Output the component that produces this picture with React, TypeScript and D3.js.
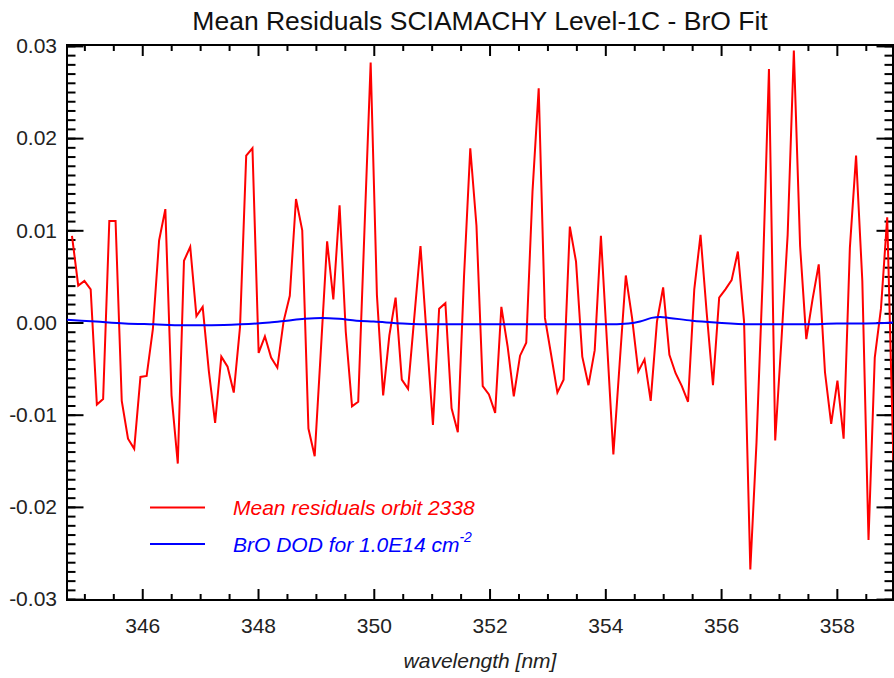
import React, { useEffect, useRef } from 'react';
import * as d3 from 'd3';

// wavelength grid of the mean residual spectrum [nm]
const wavelength = [
  344.786, 344.894, 345.001, 345.109, 345.216, 345.324, 345.431, 345.539, 345.646, 345.754,
  345.861, 345.969, 346.076, 346.184, 346.291, 346.399, 346.506, 346.614, 346.721, 346.829,
  346.936, 347.044, 347.151, 347.259, 347.366, 347.474, 347.581, 347.689, 347.796, 347.904,
  348.011, 348.119, 348.226, 348.334, 348.441, 348.549, 348.656, 348.764, 348.871, 348.979,
  349.086, 349.194, 349.301, 349.409, 349.516, 349.624, 349.731, 349.839, 349.946, 350.054,
  350.162, 350.269, 350.377, 350.484, 350.592, 350.699, 350.807, 350.914, 351.022, 351.129,
  351.237, 351.344, 351.452, 351.559, 351.667, 351.774, 351.882, 351.989, 352.097, 352.204,
  352.312, 352.419, 352.527, 352.634, 352.742, 352.849, 352.957, 353.064, 353.172, 353.279,
  353.387, 353.494, 353.602, 353.709, 353.817, 353.924, 354.032, 354.139, 354.247, 354.354,
  354.462, 354.569, 354.677, 354.784, 354.892, 354.999, 355.107, 355.214, 355.322, 355.429,
  355.537, 355.645, 355.752, 355.860, 355.967, 356.075, 356.182, 356.290, 356.397, 356.505,
  356.612, 356.720, 356.827, 356.935, 357.042, 357.150, 357.257, 357.365, 357.472, 357.580,
  357.687, 357.795, 357.902, 358.010, 358.117, 358.225, 358.332, 358.440, 358.547, 358.655,
  358.762, 358.870, 358.977,
];

// mean residuals orbit 2338
const residuals = [
  0.0094, 0.0040, 0.0045, 0.0036, -0.0089, -0.0083, 0.0110, 0.0110, -0.0085, -0.0126,
  -0.0137, -0.0059, -0.0058, -0.0007, 0.0089, 0.0123, -0.0079, -0.0153, 0.0067, 0.0082,
  0.0007, 0.0017, -0.0053, -0.0109, -0.0037, -0.0048, -0.0076, -0.0005, 0.0181, 0.0189,
  -0.0033, -0.0015, -0.0038, -0.0049, 0.0001, 0.0029, 0.0134, 0.0100, -0.0115, -0.0145,
  -0.0030, 0.0088, 0.0025, 0.0127, -0.0010, -0.0091, -0.0086, 0.0100, 0.0282, 0.0030,
  -0.0079, -0.0014, 0.0027, -0.0062, -0.0072, 0.0005, 0.0083, -0.0015, -0.0111, 0.0015,
  0.0021, -0.0093, -0.0119, 0.0050, 0.0189, 0.0105, -0.0069, -0.0078, -0.0098, 0.0017,
  -0.0026, -0.0080, -0.0036, -0.0022, 0.0142, 0.0254, 0.0005, -0.0035, -0.0076, -0.0062,
  0.0104, 0.0066, -0.0037, -0.0068, -0.0030, 0.0094, -0.0025, -0.0143, -0.0045, 0.0051,
  0.0005, -0.0053, -0.0040, -0.0085, 0.0001, 0.0038, -0.0035, -0.0055, -0.0069, -0.0086,
  0.0036, 0.0095, 0.0010, -0.0068, 0.0027, 0.0036, 0.0046, 0.0077, 0.0001, -0.0268,
  -0.0130, 0.0050, 0.0275, -0.0128, -0.0020, 0.0095, 0.0295, 0.0083, -0.0018, 0.0025,
  0.0063, -0.0054, -0.0110, -0.0063, -0.0126, 0.0081, 0.0181, 0.0045, -0.0236, -0.0038,
  0.0015, 0.0114, -0.0150,
];

// BrO differential optical density for 1.0E14 cm-2
const broWavelength = [
  344.70, 345.2, 345.7, 346.2, 346.7, 347.2, 347.7, 348.2, 348.5, 348.8, 349.1, 349.4,
  349.7, 350.0, 350.5, 351.0, 351.5, 352.0, 352.5, 353.0, 353.5, 354.0, 354.4, 354.6,
  354.8, 354.95, 355.1, 355.5, 355.9, 356.5, 357.0, 357.5, 358.0, 358.5, 358.97,
];
const broDod = [
  0.0003, 0.0001, -0.0001, -0.0002, -0.0003, -0.0003, -0.0002, 0.0000, 0.0002, 0.0004, 0.0005, 0.0004,
  0.0002, 0.0001, -0.0001, -0.0002, -0.0002, -0.0002, -0.0002, -0.0002, -0.0002, -0.0002, -0.0001, 0.0001,
  0.0005, 0.0006, 0.0005, 0.0002, 0.0000, -0.0002, -0.0002, -0.0002, -0.0001, -0.0001, 0.0000,
];

const xMajorTicks = [346, 348, 350, 352, 354, 356, 358];
const yMajorTicks = [-0.03, -0.02, -0.01, 0, 0.01, 0.02, 0.03];
const yTickLabels = ['-0.03', '-0.02', '-0.01', '0.00', '0.01', '0.02', '0.03'];

const W = 894;
const H = 678;
const FONT = "'Liberation Sans', Arial, Helvetica, sans-serif";

const App: React.FC = () => {
  const ref = useRef<SVGSVGElement>(null);

  useEffect(() => {
    if (!ref.current) return;
    const svg = d3.select(ref.current);
    svg.selectAll('*').remove();

    const left = 67, right = 893, top = 45, bottom = 600;
    const x = d3.scaleLinear().domain([344.70, 358.97]).range([left, right]);
    const y = d3.scaleLinear().domain([-0.0301, 0.0301]).range([bottom, top]);

    const xMinor = d3.range(345, 359.01, 0.5).filter(v => !xMajorTicks.includes(v));
    const yMinor = d3.range(-30, 31).map(v => v / 1000);

    svg.append('rect').attr('width', W).attr('height', H).attr('fill', 'white');

    // clip for the data lines
    svg.append('clipPath').attr('id', 'plotclip')
      .append('rect').attr('x', left).attr('y', top)
      .attr('width', right - left).attr('height', bottom - top);

    const styleAxis = (g: d3.Selection<SVGGElement, unknown, null, undefined>) => {
      g.select('.domain').remove();
      g.selectAll('line').attr('stroke', 'black').attr('stroke-width', 2);
      g.attr('font-family', FONT).attr('font-size', 21);
      g.selectAll('text').attr('fill', '#222');
    };

    const xMajorLen = 11, xMinorLen = 6, yMajorLen = 16.5, yMinorLen = 8.5;

    // bottom axis
    svg.append('g').attr('transform', `translate(0,${bottom})`)
      .call(d3.axisBottom(x).tickValues(xMajorTicks).tickSize(-xMajorLen).tickPadding(18).tickFormat(d => String(d)))
      .call(styleAxis);
    svg.append('g').attr('transform', `translate(0,${bottom})`)
      .call(d3.axisBottom(x).tickValues(xMinor).tickSize(-xMinorLen).tickFormat(() => ''))
      .call(styleAxis);
    // top axis
    svg.append('g').attr('transform', `translate(0,${top})`)
      .call(d3.axisTop(x).tickValues(xMajorTicks).tickSize(-xMajorLen).tickFormat(() => ''))
      .call(styleAxis);
    svg.append('g').attr('transform', `translate(0,${top})`)
      .call(d3.axisTop(x).tickValues(xMinor).tickSize(-xMinorLen).tickFormat(() => ''))
      .call(styleAxis);
    // left axis
    svg.append('g').attr('transform', `translate(${left},0)`)
      .call(d3.axisLeft(y).tickValues(yMajorTicks).tickSize(-yMajorLen).tickPadding(10)
        .tickFormat((d, i) => yTickLabels[i]))
      .call(styleAxis);
    svg.append('g').attr('transform', `translate(${left},0)`)
      .call(d3.axisLeft(y).tickValues(yMinor).tickSize(-yMinorLen).tickFormat(() => ''))
      .call(styleAxis);
    // right axis
    svg.append('g').attr('transform', `translate(${right},0)`)
      .call(d3.axisRight(y).tickValues(yMajorTicks).tickSize(-yMajorLen).tickFormat(() => ''))
      .call(styleAxis);
    svg.append('g').attr('transform', `translate(${right},0)`)
      .call(d3.axisRight(y).tickValues(yMinor).tickSize(-yMinorLen).tickFormat(() => ''))
      .call(styleAxis);

    // frame
    svg.append('rect')
      .attr('x', left).attr('y', top)
      .attr('width', right - left).attr('height', bottom - top)
      .attr('fill', 'none').attr('stroke', 'black').attr('stroke-width', 2);

    const plot = svg.append('g').attr('clip-path', 'url(#plotclip)');

    const resLine = d3.line<number>()
      .x((_, i) => x(wavelength[i]))
      .y(d => y(d));
    plot.append('path')
      .attr('d', resLine(residuals))
      .attr('fill', 'none').attr('stroke', 'red').attr('stroke-width', 2)
      .attr('stroke-linejoin', 'miter');

    const broLine = d3.line<number>()
      .x((_, i) => x(broWavelength[i]))
      .y(d => y(d))
      .curve(d3.curveMonotoneX);
    plot.append('path')
      .attr('d', broLine(broDod))
      .attr('fill', 'none').attr('stroke', 'blue').attr('stroke-width', 2);

    // title and x label
    svg.append('text')
      .attr('x', (left + right) / 2).attr('y', 30)
      .attr('text-anchor', 'middle')
      .attr('font-family', FONT).attr('font-size', 26.5).attr('fill', '#111')
      .text('Mean Residuals SCIAMACHY Level-1C - BrO Fit');
    svg.append('text')
      .attr('x', (left + right) / 2).attr('y', 668)
      .attr('text-anchor', 'middle')
      .attr('font-family', FONT).attr('font-size', 21).attr('font-style', 'italic').attr('fill', '#222')
      .text('wavelength [nm]');

    // legend
    const legend = svg.append('g').attr('font-family', FONT).attr('font-size', 21).attr('font-style', 'italic');
    legend.append('line').attr('x1', 150).attr('x2', 205).attr('y1', 507.5).attr('y2', 507.5)
      .attr('stroke', 'red').attr('stroke-width', 2);
    legend.append('text').attr('x', 233).attr('y', 515).attr('fill', 'red')
      .text('Mean residuals orbit 2338');
    legend.append('line').attr('x1', 150).attr('x2', 205).attr('y1', 544).attr('y2', 544)
      .attr('stroke', 'blue').attr('stroke-width', 2);
    const t2 = legend.append('text').attr('x', 233).attr('y', 552).attr('fill', 'blue');
    t2.append('tspan').text('BrO DOD for 1.0E14 cm');
    t2.append('tspan').attr('font-size', 14).attr('dy', -10).text('-2');
  }, []);

  return (
    <svg ref={ref} width={W} height={H} viewBox={`0 0 ${W} ${H}`}
      style={{ position: 'absolute', left: 0, top: 0, display: 'block' }} />
  );
};

export default App;
